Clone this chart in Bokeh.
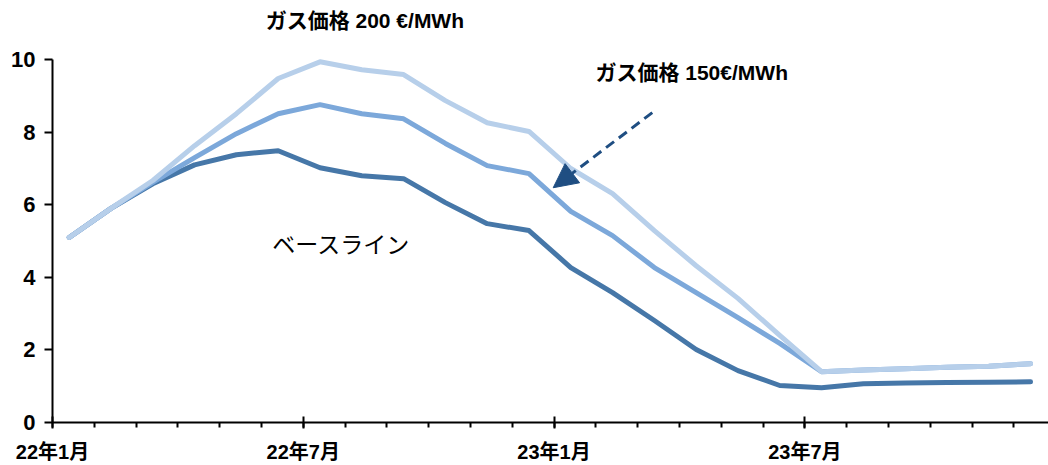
from bokeh.plotting import figure
from bokeh.models import Range1d, FixedTicker, Arrow, NormalHead, Label
from bokeh.embed import file_html
from bokeh.resources import INLINE

# months since Jan 2022 (data plotted near mid-month)
months = list(range(24))
baseline = [5.10, 5.90, 6.58, 7.10, 7.38, 7.49, 7.02, 6.80, 6.72, 6.06, 5.48, 5.29,
            4.27, 3.58, 2.81, 2.01, 1.43, 1.02, 0.96, 1.07, 1.09, 1.10, 1.11, 1.12]
gas150 = [5.10, 5.90, 6.62, 7.30, 7.96, 8.51, 8.76, 8.51, 8.37, 7.69, 7.08, 6.86,
          5.82, 5.15, 4.27, 3.58, 2.89, 2.18, 1.40, 1.45, 1.48, 1.52, 1.55, 1.62]
gas200 = [5.10, 5.90, 6.67, 7.63, 8.51, 9.48, 9.94, 9.72, 9.59, 8.87, 8.26, 8.02,
          7.00, 6.31, 5.29, 4.32, 3.42, 2.40, 1.40, 1.45, 1.48, 1.52, 1.55, 1.62]
tick_pos = [0, 6, 12, 18]
tick_labels = ["22年1月", "22年7月", "23年1月", "23年7月"]
y_ticks = [0, 2, 4, 6, 8, 10]

xs = [m + 0.4 for m in months]

FONT = "Liberation Sans Narrow, Liberation Sans, Noto Sans CJK JP"

p = figure(width=1048, height=465, x_range=Range1d(0, 23.83), y_range=Range1d(0, 11.63),
           output_backend="svg", toolbar_location=None,
           min_border_left=52, min_border_right=0, min_border_top=0, min_border_bottom=43)
p.outline_line_color = None
p.grid.visible = False
p.background_fill_color = "white"

p.line(xs, baseline, line_color="#4677A8", line_width=5, line_join="round", line_cap="round")
p.line(xs, gas150, line_color="#7CA8DA", line_width=5, line_join="round", line_cap="round")
p.line(xs, gas200, line_color="#B7CFEA", line_width=5, line_join="round", line_cap="round")

xa = p.xaxis[0]
xa.ticker = FixedTicker(ticks=tick_pos, minor_ticks=months + [24])
xa.major_label_overrides = {t: l for t, l in zip(tick_pos, tick_labels)}
xa.axis_line_width = 2
xa.axis_line_color = "black"
xa.major_tick_in = 6
xa.major_tick_out = 6
xa.major_tick_line_width = 2
xa.minor_tick_in = 0
xa.minor_tick_out = 5
xa.minor_tick_line_width = 2
xa.major_label_standoff = 12
xa.major_label_text_font = FONT
xa.major_label_text_font_style = "bold"
xa.major_label_text_font_size = "20px"
xa.major_label_text_color = "black"

ya = p.yaxis[0]
ya.ticker = FixedTicker(ticks=y_ticks, minor_ticks=[])
ya.bounds = (0, 10)
ya.axis_line_width = 2
ya.axis_line_color = "black"
ya.major_tick_in = 0
ya.major_tick_out = 8
ya.major_tick_line_width = 2
ya.minor_tick_line_color = None
ya.major_label_standoff = 9
ya.major_label_text_font = FONT
ya.major_label_text_font_style = "bold"
ya.major_label_text_font_size = "22px"
ya.major_label_text_color = "black"

arrow = Arrow(end=NormalHead(size=24, fill_color="#1F4E82", line_color="#1F4E82"),
              x_start=14.35, y_start=8.54, x_end=11.98, y_end=6.47,
              line_color="#1F4E82", line_width=3, line_dash="10 6")
p.add_layout(arrow)

p.add_layout(Label(x=5.10, y=11.07, text="ガス価格 200 €/MWh",
                   text_font=FONT, text_font_style="bold", text_font_size="21px",
                   text_baseline="middle", text_color="black"))
p.add_layout(Label(x=12.99, y=9.64, text="ガス価格 150€/MWh",
                   text_font=FONT, text_font_style="bold", text_font_size="21px",
                   text_baseline="middle", text_color="black"))
p.add_layout(Label(x=5.26, y=4.88, text="ベースライン",
                   text_font=FONT, text_font_style="normal", text_font_size="23px",
                   text_baseline="middle", text_color="black"))

open("out.html", "w").write(file_html(p, INLINE))
